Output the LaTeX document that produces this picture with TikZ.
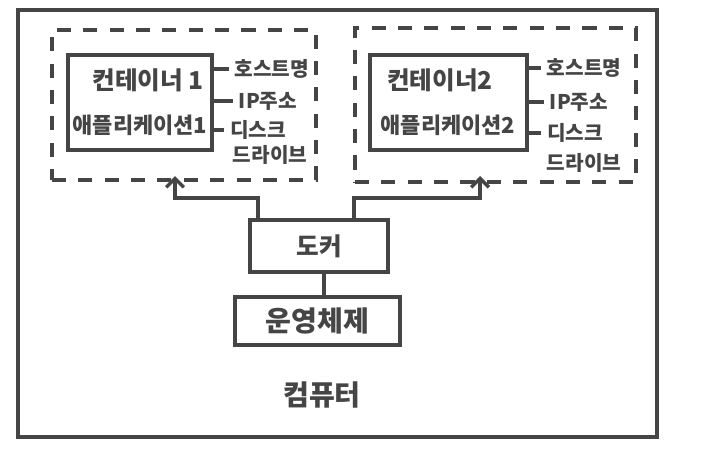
\documentclass[tikz,border=0pt]{standalone}
\usepackage{fontspec}
\newfontfamily\hand{Noto Sans CJK KR}
\usetikzlibrary{arrows.meta}
\usetikzlibrary{positioning}
\definecolor{pen}{HTML}{454545}
\tikzset{
  box/.style={draw=pen, line width=2pt, inner sep=0pt},
  dashbox/.style={draw=pen, line width=2pt, dash pattern=on 8pt off 7pt},
  wire/.style={draw=pen, line width=2pt},
  tag/.style={text=pen, font=\hand\bfseries\fontsize{11.5}{13}\selectfont, inner sep=0pt},
  title/.style={text=pen, font=\hand\bfseries\fontsize{14}{16}\selectfont, inner sep=0pt}
}

\begin{document}
\begin{tikzpicture}[x=0.02cm, y=-0.02cm]
\useasboundingbox (0,0) rectangle (718,470);
\fill[white] (0,0) rectangle (718,470);

\node[box, minimum width=12.78cm, minimum height=8.54cm] (comp) at (337.5,223.5) {};
\node[title, font=\hand\bfseries\fontsize{16}{18}\selectfont] (complbl) at (322,395) {컴퓨터};

% container 1
\node[dashbox, minimum width=5.28cm, minimum height=3cm] (d1) at (184,105) {};
\node[box, minimum width=2.88cm, minimum height=1.9cm] (c1) at (140,102.5) {};
\node[title] (ct1) at (148,80) {컨테이너 1};
\node[tag, font=\hand\bfseries\fontsize{12.5}{14}\selectfont] (ca1) at (140,125) {애플리케이션1};
\node[tag] (h1) at (272,69) {호스트명};
\node[tag] (ip1) at (268,101) {IP주소};
\node[tag] (dsk1) at (258,130) {디스크};
\node[tag] (drv1) at (270,155) {드라이브};
\draw[wire, shorten >=3pt] (c1.east |- h1) -- (h1.west);
\draw[wire, shorten >=3pt] (c1.east |- ip1) -- (ip1.west);
\draw[wire, shorten >=3pt] (c1.east |- dsk1) -- (dsk1.west);

% container 2
\node[dashbox, minimum width=5.62cm, minimum height=3.08cm] (d2) at (495.5,105) {};
\node[box, minimum width=3.14cm, minimum height=1.9cm] (c2) at (448.5,102.5) {};
\node[title] (ct2) at (440,80) {컨테이너2};
\node[tag, font=\hand\bfseries\fontsize{12.5}{14}\selectfont] (ca2) at (448,125) {애플리케이션2};
\node[tag] (h2) at (584,68) {호스트명};
\node[tag] (ip2) at (579,102) {IP주소};
\node[tag] (dsk2) at (575,133) {디스크};
\node[tag] (drv2) at (584,163) {드라이브};
\draw[wire, shorten >=3pt] (c2.east |- h2) -- (h2.west);
\draw[wire, shorten >=3pt] (c2.east |- ip2) -- (ip2.west);
\draw[wire, shorten >=3pt] (c2.east |- dsk2) -- (dsk2.west);

% docker and os
\node[box, minimum width=2.76cm, minimum height=1.04cm, title] (dk) at (319,246) {도커};
\node[box, minimum width=3.3cm, minimum height=0.96cm, title, font=\hand\bfseries\fontsize{16}{18}\selectfont] (os) at (317.5,321) {운영체제};
\draw[wire] ([xshift=0.1cm]dk.south) -- ([xshift=0.1cm]dk.south |- os.north);

\coordinate (a1) at (175,176);
\coordinate (a2) at (480,176);
\draw[wire, -{Straight Barb[length=5pt]}] ([xshift=0.2cm]dk.north west) -- ++(0,-20) -| (a1);
\draw[wire, -{Straight Barb[length=5pt]}] ([xshift=-0.72cm]dk.north east) -- ++(0,-20) -| (a2);
\end{tikzpicture}
\end{document}
